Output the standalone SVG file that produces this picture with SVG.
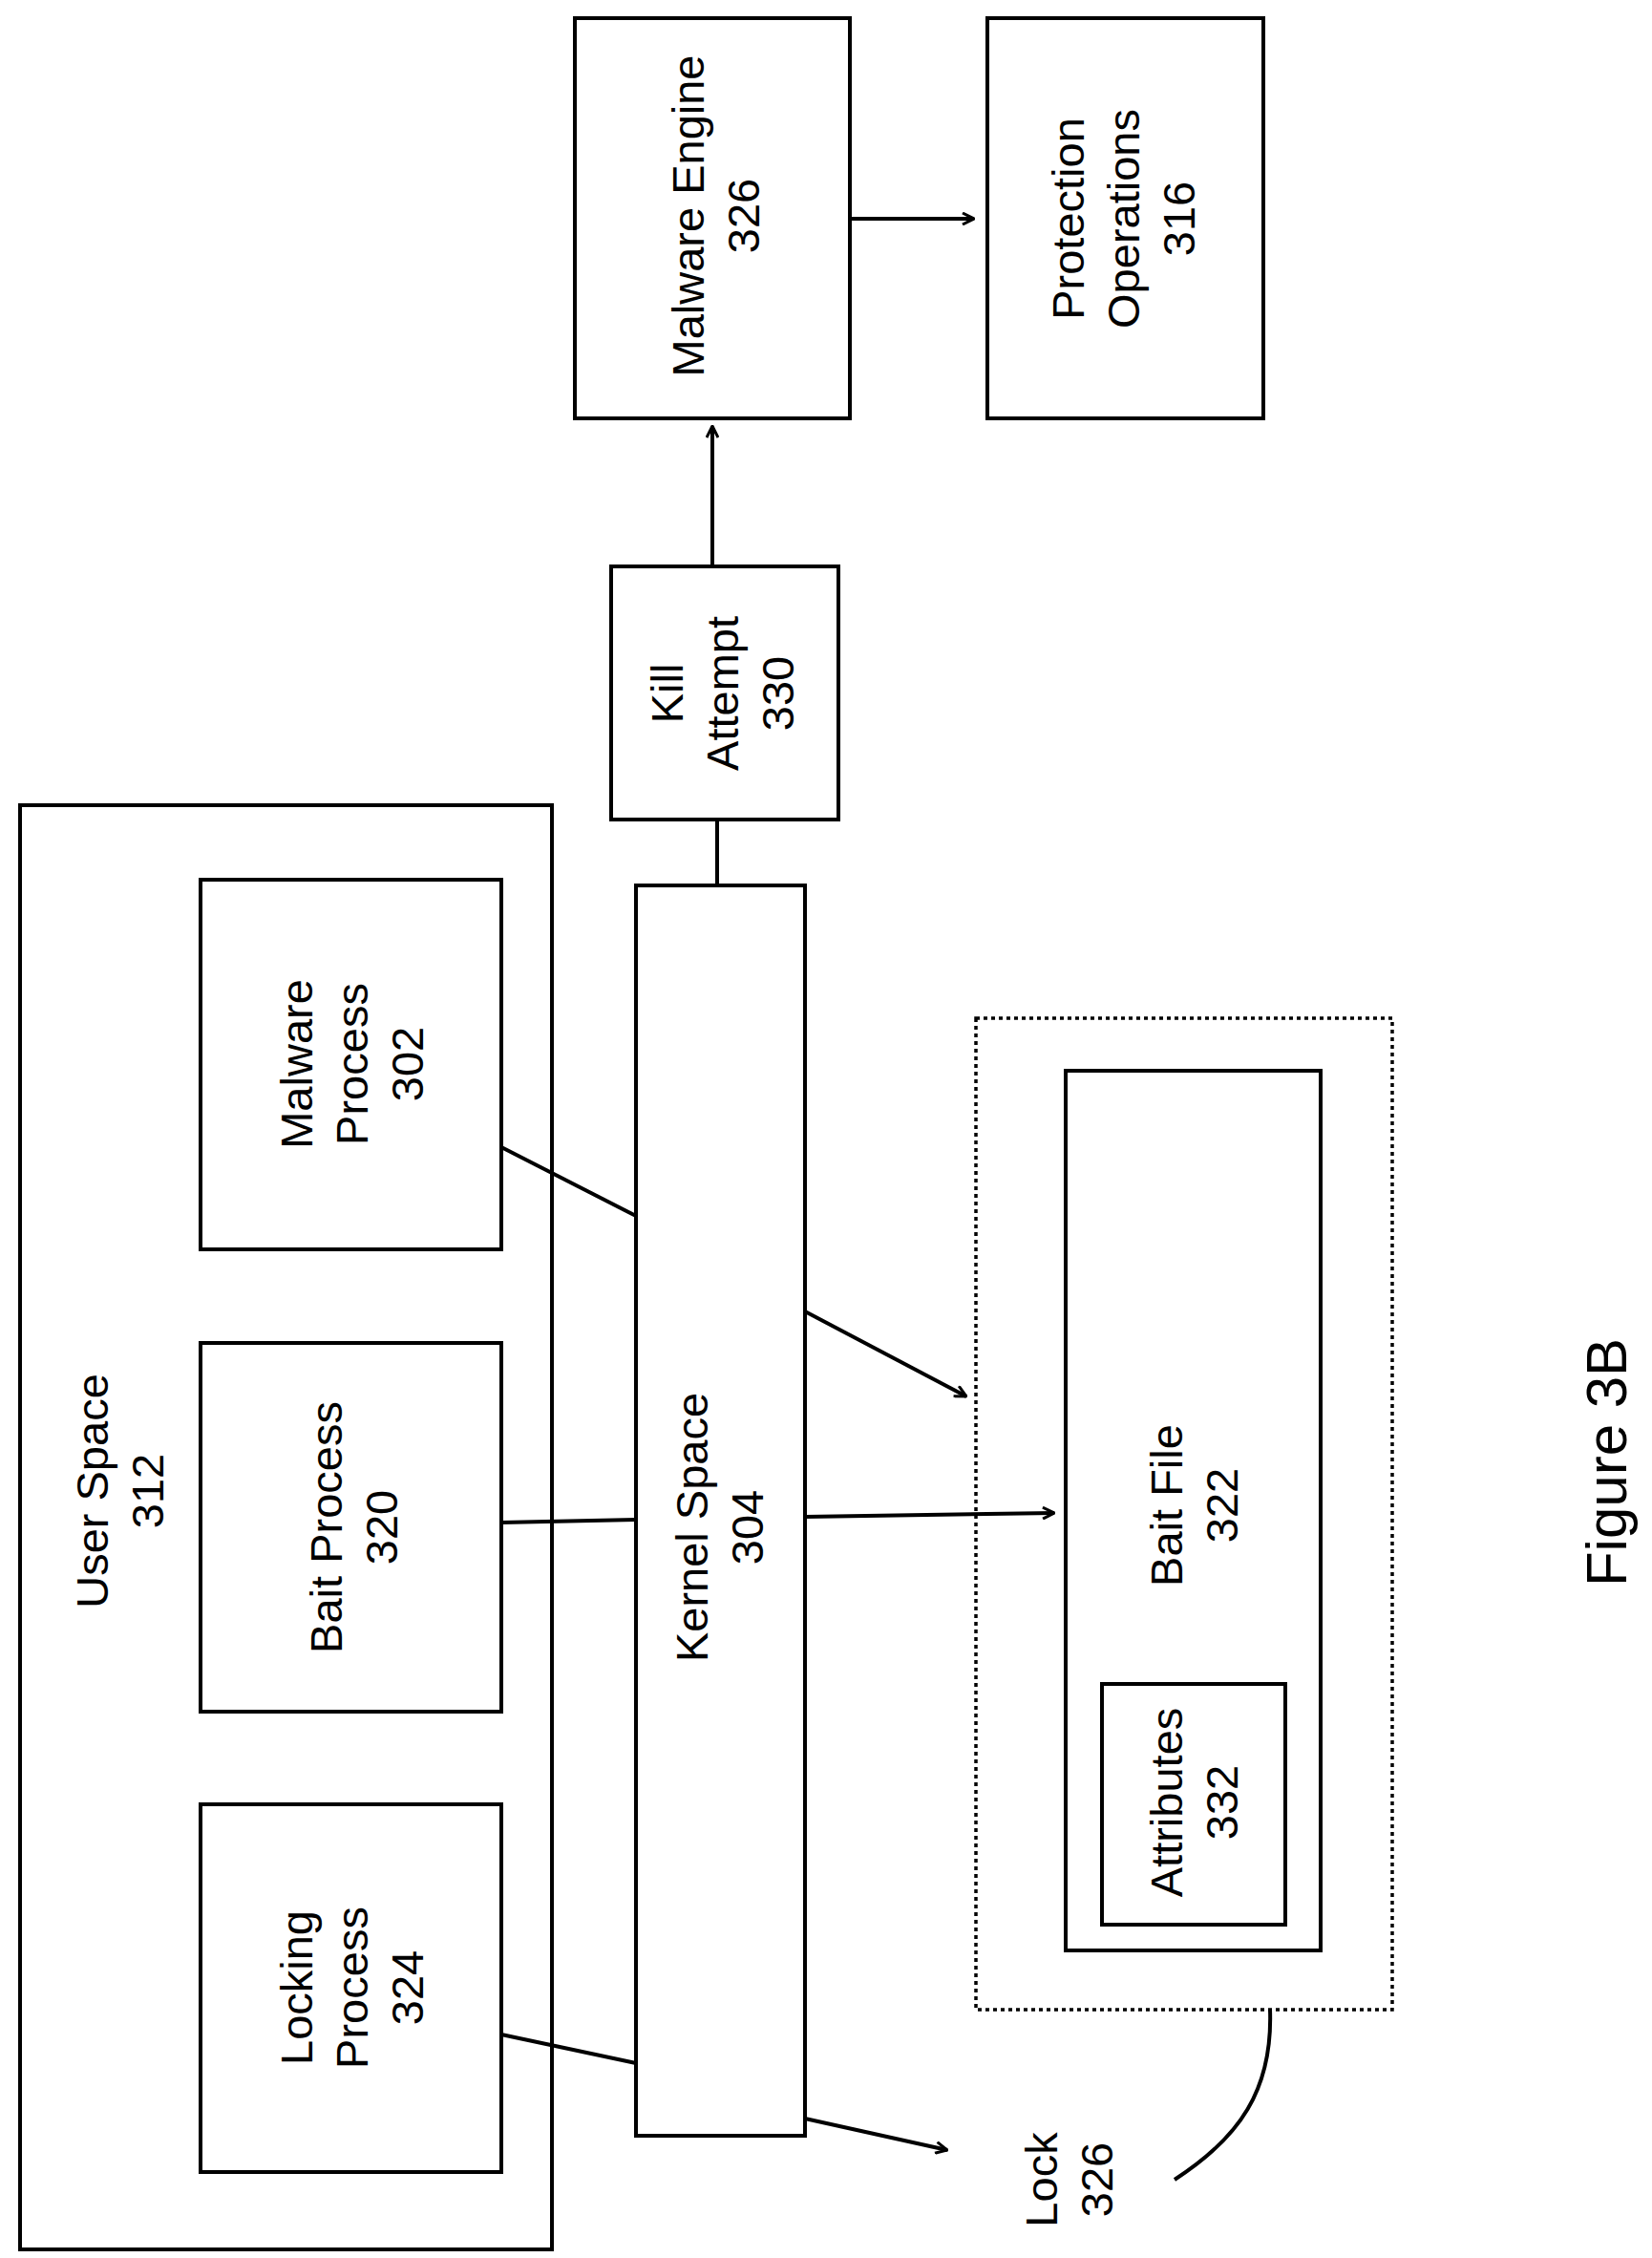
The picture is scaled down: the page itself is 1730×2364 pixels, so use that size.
<svg xmlns="http://www.w3.org/2000/svg" width="1730" height="2364" viewBox="0 0 1730 2364">
<style>
rect{fill:none;stroke:#000;stroke-width:4}
.dot{stroke-dasharray:4 4;stroke-width:3.5}
.c line,.c path{stroke:#000;stroke-width:4;fill:none}
text{font-family:"Liberation Sans",Arial,sans-serif;font-size:47px;text-anchor:middle;dominant-baseline:central;fill:#000}
.fig{font-size:60px}
</style>
<defs><marker id="a" viewBox="0 0 14 14" refX="13" refY="7" markerWidth="14" markerHeight="14" markerUnits="userSpaceOnUse" orient="auto"><path d="M1,1 L13,7 L1,13" fill="none" stroke="#000" stroke-width="3"/></marker></defs>
<g id="user-space"><rect x="21" y="843" width="557" height="1512"/><text transform="translate(125,1561) rotate(-90)"><tspan x="0" y="-29">User Space</tspan><tspan x="0" y="29">312</tspan></text></g>
<g id="malware-process"><rect x="210" y="921" width="315" height="387"/><text transform="translate(368,1114) rotate(-90)"><tspan x="0" y="-58">Malware</tspan><tspan x="0" y="0">Process</tspan><tspan x="0" y="58">302</tspan></text></g>
<g id="bait-process"><rect x="210" y="1406" width="315" height="386"/><text transform="translate(370,1599) rotate(-90)"><tspan x="0" y="-29">Bait Process</tspan><tspan x="0" y="29">320</tspan></text></g>
<g id="locking-process"><rect x="210" y="1889" width="315" height="385"/><text transform="translate(368,2081) rotate(-90)"><tspan x="0" y="-58">Locking</tspan><tspan x="0" y="0">Process</tspan><tspan x="0" y="58">324</tspan></text></g>
<g id="kernel-space"><rect x="666" y="927" width="177" height="1309"/><text transform="translate(753,1599) rotate(-90)"><tspan x="0" y="-29">Kernel Space</tspan><tspan x="0" y="29">304</tspan></text></g>
<g id="kill-attempt"><rect x="640" y="593" width="238" height="265"/><text transform="translate(756,726) rotate(-90)"><tspan x="0" y="-58">Kill</tspan><tspan x="0" y="0">Attempt</tspan><tspan x="0" y="58">330</tspan></text></g>
<g id="malware-engine"><rect x="602" y="19" width="288" height="419"/><text transform="translate(749,226) rotate(-90)"><tspan x="0" y="-29">Malware Engine</tspan><tspan x="0" y="29">326</tspan></text></g>
<g id="protection-operations"><rect x="1034" y="19" width="289" height="419"/><text transform="translate(1176,229) rotate(-90)"><tspan x="0" y="-58">Protection</tspan><tspan x="0" y="0">Operations</tspan><tspan x="0" y="58">316</tspan></text></g>
<g id="lock-region"><rect class="dot" x="1022" y="1066" width="436" height="1038"/></g>
<g id="bait-file"><rect x="1116" y="1121" width="267" height="921"/><text transform="translate(1250,1576) rotate(-90)"><tspan x="0" y="-29">Bait File</tspan><tspan x="0" y="29">322</tspan></text></g>
<g id="attributes"><rect x="1154" y="1763" width="192" height="252"/><text transform="translate(1250,1887) rotate(-90)"><tspan x="0" y="-29">Attributes</tspan><tspan x="0" y="29">332</tspan></text></g>
<g id="lock-label"><text transform="translate(1119,2282) rotate(-90)"><tspan x="0" y="-29">Lock</tspan><tspan x="0" y="29">326</tspan></text></g>
<g id="figure-label"><text class="fig" transform="translate(1682,1531) rotate(-90)">Figure 3B</text></g>
<g class="c" id="connectors">
<line x1="890" y1="229" x2="1020" y2="229" marker-end="url(#a)"/>
<line x1="746" y1="593" x2="746" y2="446" marker-end="url(#a)"/>
<line x1="751" y1="858" x2="751" y2="927"/>
<line x1="525" y1="1201" x2="666" y2="1273"/>
<line x1="843" y1="1373" x2="1012" y2="1462" marker-end="url(#a)"/>
<line x1="525" y1="1594" x2="666" y2="1591"/>
<line x1="843" y1="1588" x2="1104" y2="1584" marker-end="url(#a)"/>
<line x1="525" y1="2130" x2="666" y2="2160"/>
<line x1="843" y1="2218" x2="992" y2="2251" marker-end="url(#a)"/>
<path d="M1330,2104 C1333,2188 1298,2238 1230,2282"/>
</g>
</svg>
